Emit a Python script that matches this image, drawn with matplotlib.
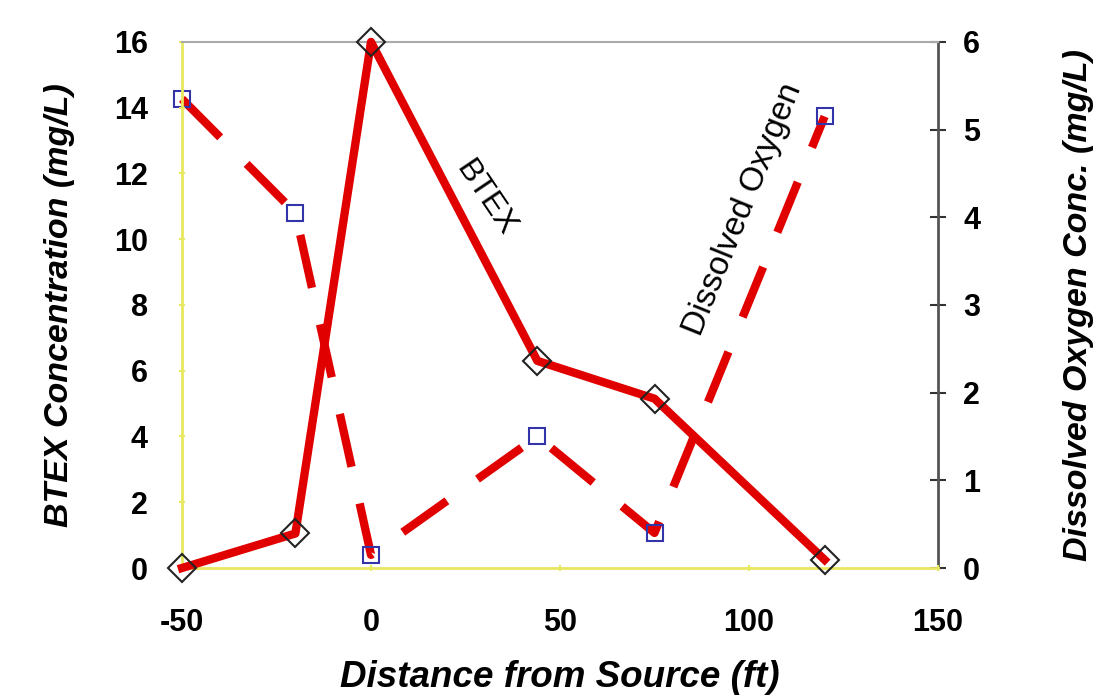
import matplotlib
matplotlib.use("Agg")
import matplotlib.pyplot as plt

plt.rcParams['font.family'] = ['Liberation Sans', 'DejaVu Sans']
plt.rcParams['axes.unicode_minus'] = False

# Data
btex_x = [-50, -20, 0, 44, 75, 120]
btex_y = [0.0, 1.05, 16.0, 6.3, 5.15, 0.25]
do_x = [-50, -20, 0, 44, 75, 120]
do_y = [5.35, 4.05, 0.15, 1.5, 0.4, 5.15]

x_ticks = [-50, 0, 50, 100, 150]
left_ticks = [0, 2, 4, 6, 8, 10, 12, 14, 16]
right_ticks = [0, 1, 2, 3, 4, 5, 6]

RED = '#e10000'
YEL = '#e8e860'

fig = plt.figure(figsize=(11.11, 6.99), dpi=100)
ax = fig.add_axes([0.1638, 0.1874, 0.8443 - 0.1638, 0.94 - 0.1874])
ax2 = ax.twinx()

ax2.plot(do_x, do_y, color=RED, lw=6, linestyle=(0, (6.5, 4.5)), marker='s',
         ms=12, mfc='none', mec='#3333aa', mew=1.5, clip_on=False, zorder=2)
ax.plot(btex_x, btex_y, color=RED, lw=6, marker='D', ms=14, mfc='none',
        mec='#222222', mew=1.5, clip_on=False, zorder=3)
ax.set_zorder(ax2.get_zorder() + 1)
ax.patch.set_visible(False)

ax.set_xlim(-50, 150)
ax.set_ylim(0, 16)
ax2.set_ylim(0, 6)
ax.set_xticks(x_ticks)
ax.set_yticks(left_ticks)
ax2.set_yticks(right_ticks)

for sp in ['left', 'bottom']:
    ax.spines[sp].set_color(YEL)
    ax.spines[sp].set_linewidth(2)
ax.spines['top'].set_color('#aaaaaa')
ax.spines['top'].set_linewidth(1.5)
ax.spines['right'].set_visible(False)
for sp in ['left', 'bottom', 'top']:
    ax2.spines[sp].set_visible(False)
ax2.spines['right'].set_color('#555555')
ax2.spines['right'].set_linewidth(2)

ax.tick_params(axis='both', which='both', color=YEL, length=5, width=1.5,
               direction='inout', labelsize=22)
ax.tick_params(axis='y', pad=22)
ax.tick_params(axis='x', pad=26)
ax2.tick_params(axis='y', color='#333333', length=12, width=1.5,
                direction='inout', labelsize=22, pad=12)
for lab in ax.get_xticklabels() + ax.get_yticklabels() + ax2.get_yticklabels():
    lab.set_fontweight('bold')

ax.set_xlabel('Distance from Source (ft)', fontsize=26.5, fontweight='bold',
              fontstyle='italic', labelpad=16)
ax.set_ylabel('BTEX Concentration (mg/L)', fontsize=24.5, fontweight='bold',
              fontstyle='italic', labelpad=28)
ax2.set_ylabel('Dissolved Oxygen Conc. (mg/L)', fontsize=24.5, fontweight='bold',
               fontstyle='italic', labelpad=60)

ax.text(30.4, 11.25, 'BTEX', rotation=-56, fontsize=23, ha='center',
        va='center', rotation_mode='anchor')
ax.text(98.5, 10.9, 'Dissolved Oxygen', rotation=68, fontsize=24,
        ha='center', va='center', rotation_mode='anchor')

fig.savefig('out.png', dpi=100)
